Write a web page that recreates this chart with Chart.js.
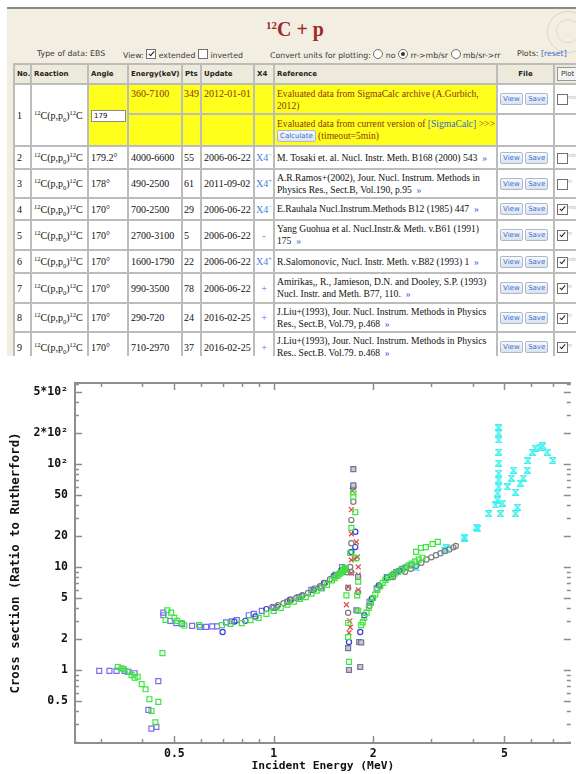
<!DOCTYPE html>
<html>
<head>
<meta charset="utf-8">
<script src="https://cdn.jsdelivr.net/npm/chart.js@4.4.0/dist/chart.umd.min.js"></script>
<style>
html, body { margin: 0; padding: 0; width: 576px; height: 774px; overflow: hidden; background: #fff; }
#topline { position: absolute; left: 7px; top: 7px; width: 569px; height: 2px; background: #8a8a8a; }
#page { position: absolute; left: 7px; top: 9px; width: 569px; height: 347px; background: #f2efe2; overflow: hidden; }
#logo { position: absolute; left: 540px; top: 2px; width: 40px; height: 40px; border: 1px solid #d9d5c9; border-radius: 50%; }
#logo2 { position: absolute; left: 549px; top: 10px; width: 22px; height: 22px; border: 1px solid #dedace; border-radius: 50%; }
#title { position: absolute; left: 259px; top: 10px; font: bold 20px "Liberation Serif", serif; line-height: 20px; color: #a3282a; white-space: nowrap; }
#title sup { font-size: 11px; vertical-align: 7px; line-height: 0; }
.flt { position: absolute; top: 40px; font: 7.8px "DejaVu Sans", sans-serif; line-height: 10px; color: #3a3a3a; white-space: nowrap; }
.flt a { color: #3366cc; }
.cb { display: inline-block; width: 8px; height: 8px; border: 1px solid #707070; background: #fff; position: relative; vertical-align: -1px; }
.cb.on::after { content: ""; position: absolute; left: 2.5px; top: 0; width: 2px; height: 5px; border: solid #222; border-width: 0 1.4px 1.4px 0; transform: rotate(40deg); }
.rd { display: inline-block; width: 8px; height: 8px; border: 1px solid #707070; border-radius: 50%; background: #fff; position: relative; vertical-align: -1px; }
.rd.on::after { content: ""; position: absolute; left: 2px; top: 2px; width: 4px; height: 4px; border-radius: 50%; background: #333; }
#tbl { position: absolute; left: 6px; top: 54px; border-collapse: collapse; table-layout: fixed; width: 580px; font: 10px "Liberation Serif", serif; color: #111; }
#tbl td, #tbl th { border: 2px solid #bcbcbc; padding: 0 2px; white-space: nowrap; overflow: hidden; background: #fff; }
#tbl td.n { padding: 0 1px; }
#tbl th { background: #eeeadb; font: bold 7px "DejaVu Sans", sans-serif; text-align: left; color: #222; }
#tbl th.c { text-align: center; }
#tbl td.y { background: #ffff1e; }
#tbl td.t { vertical-align: top; padding-top: 3px; }
#tbl td.br { color: #8b3510; }
#tbl td.ref { line-height: 12px; font-size: 9.6px; }
#tbl sup, #tbl sub { font-size: 6.5px; line-height: 0; }
.inp { display: inline-block; width: 31px; height: 10px; background: #fff; border: 1px solid #8a8a8a; font: 7px "DejaVu Sans", sans-serif; line-height: 10px; padding-left: 2px; }
.btn { display: inline-block; font: 7px "DejaVu Sans", sans-serif; color: #3a6fd0; background: linear-gradient(#f7f9fc, #d9e3ef); border: 1px solid #aeb8c8; padding: 0 2px; line-height: 10px; border-radius: 2px; vertical-align: middle; }
.pbtn { display: inline-block; font: 7px "DejaVu Sans", sans-serif; color: #333; background: #f3f3f3; border: 1px solid #999; padding: 2px 3px; font-weight: normal; }
.lnk { color: #3366cc; }
.x4 { color: #3f7fe0; font-size: 10px; }
#tbl td.pl .cb { width: 9px; height: 9px; vertical-align: middle; }
.u { color: #aaa; font: 5px "DejaVu Sans", sans-serif; vertical-align: 3px; }
#plot { position: absolute; left: 0; top: 357px; width: 576px; height: 417px; background: #fff; }
</style>
</head>
<body>
<div id="topline"></div>
<div id="page">
  <div id="logo"></div><div id="logo2"></div>
  <div id="title"><sup>12</sup>C + p</div>
  <span class="flt" style="left:30px">Type of data: EBS</span>
  <span class="flt" style="left:116px">View: <span class="cb on"></span> extended <span class="cb"></span> inverted</span>
  <span class="flt" style="left:263px">Convert units for plotting: <span class="rd"></span> no <span class="rd on"></span> rr-&gt;mb/sr <span class="rd"></span> mb/sr-&gt;rr</span>
  <span class="flt" style="left:510px">Plots: <a>[reset]</a></span>
  <table id="tbl">
    <colgroup><col style="width:17px"><col style="width:57px"><col style="width:40px"><col style="width:54px"><col style="width:19px"><col style="width:53px"><col style="width:20px"><col style="width:223px"><col style="width:57px"><col style="width:40px"></colgroup>
    <tr style="height:20px"><th>No.</th><th>Reaction</th><th>Angle</th><th>Energy(keV)</th><th>Pts</th><th>Update</th><th>X4</th><th>Reference</th><th class="c">File</th><th><span class="pbtn">Plot</span></th></tr>
    <tr style="height:30px">
      <td rowspan="2">1</td>
      <td rowspan="2"><sup>12</sup>C(p,p<sub>0</sub>)<sup>12</sup>C</td>
      <td rowspan="2" class="y"><span class="inp">179</span></td>
      <td class="y t br">360-7100</td><td class="y t br n">349</td><td class="y t br">2012-01-01</td><td class="y"></td>
      <td class="y t br ref">Evaluated data from SigmaCalc archive (A.Gurbich,<br>2012)</td>
      <td><span class="btn">View</span> <span class="btn">Save</span></td>
      <td class="pl"><span class="cb"></span><span class="u">mb</span></td>
    </tr>
    <tr style="height:32px">
      <td class="y"></td><td class="y"></td><td class="y"></td><td class="y"></td>
      <td class="y br ref">Evaluated data from current version of <span class="lnk">[SigmaCalc]</span> &gt;&gt;&gt;<br><span class="btn">Calculate</span> (timeout=5min)</td>
      <td></td><td></td>
    </tr>
    <tr style="height:23px"><td>2</td><td><sup>12</sup>C(p,p<sub>0</sub>)<sup>12</sup>C</td><td>179.2°</td><td>4000-6600</td><td class="n">55</td><td>2006-06-22</td><td class="n"><span class="x4">X4<sup>−</sup></span></td><td class="ref">M. Tosaki et. al. Nucl. Instr. Meth. B168 (2000) 543 &nbsp;<span class="lnk">»</span></td><td><span class="btn">View</span> <span class="btn">Save</span></td><td class="pl"><span class="cb"></span><span class="u">mb</span></td></tr>
    <tr style="height:29px"><td>3</td><td><sup>12</sup>C(p,p<sub>0</sub>)<sup>12</sup>C</td><td>178°</td><td>490-2500</td><td class="n">61</td><td>2011-09-02</td><td class="n"><span class="x4">X4<sup>+</sup></span></td><td class="ref">A.R.Ramos+(2002), Jour. Nucl. Instrum. Methods in<br>Physics Res., Sect.B, Vol.190, p.95 &nbsp;<span class="lnk">»</span></td><td><span class="btn">View</span> <span class="btn">Save</span></td><td class="pl"><span class="cb"></span><span class="u">rr</span></td></tr>
    <tr style="height:22px"><td>4</td><td><sup>12</sup>C(p,p<sub>0</sub>)<sup>12</sup>C</td><td>170°</td><td>700-2500</td><td class="n">29</td><td>2006-06-22</td><td class="n"><span class="x4">X4<sup>−</sup></span></td><td class="ref">E.Rauhala Nucl.Instrum.Methods B12 (1985) 447 &nbsp;<span class="lnk">»</span></td><td><span class="btn">View</span> <span class="btn">Save</span></td><td class="pl"><span class="cb on"></span><span class="u">mb</span></td></tr>
    <tr style="height:30px"><td>5</td><td><sup>12</sup>C(p,p<sub>0</sub>)<sup>12</sup>C</td><td>170°</td><td>2700-3100</td><td class="n">5</td><td>2006-06-22</td><td class="n" style="text-align:center"><span class="x4">-</span></td><td class="ref">Yang Guohua et al. Nucl.Instr.&amp; Meth. v.B61 (1991)<br>175 &nbsp;<span class="lnk">»</span></td><td><span class="btn">View</span> <span class="btn">Save</span></td><td class="pl"><span class="cb on"></span><span class="u">rr</span></td></tr>
    <tr style="height:23px"><td>6</td><td><sup>12</sup>C(p,p<sub>0</sub>)<sup>12</sup>C</td><td>170°</td><td>1600-1790</td><td class="n">22</td><td>2006-06-22</td><td class="n"><span class="x4">X4<sup>+</sup></span></td><td class="ref">R.Salomonovic, Nucl. Instr. Meth. v.B82 (1993) 1 &nbsp;<span class="lnk">»</span></td><td><span class="btn">View</span> <span class="btn">Save</span></td><td class="pl"><span class="cb on"></span><span class="u">mb</span></td></tr>
    <tr style="height:30px"><td>7</td><td><sup>12</sup>C(p,p<sub>0</sub>)<sup>12</sup>C</td><td>170°</td><td>990-3500</td><td class="n">78</td><td>2006-06-22</td><td class="n" style="text-align:center"><span class="x4">+</span></td><td class="ref">Amirikas,, R., Jamieson, D.N. and Dooley, S.P. (1993)<br>Nucl. Instr. and Meth. B77, 110. &nbsp;<span class="lnk">»</span></td><td><span class="btn">View</span> <span class="btn">Save</span></td><td class="pl"><span class="cb on"></span><span class="u">rr</span></td></tr>
    <tr style="height:29px"><td>8</td><td><sup>12</sup>C(p,p<sub>0</sub>)<sup>12</sup>C</td><td>170°</td><td>290-720</td><td class="n">24</td><td>2016-02-25</td><td class="n" style="text-align:center"><span class="x4">+</span></td><td class="ref">J.Liu+(1993), Jour. Nucl. Instrum. Methods in Physics<br>Res., Sect.B, Vol.79, p.468 &nbsp;<span class="lnk">»</span></td><td><span class="btn">View</span> <span class="btn">Save</span></td><td class="pl"><span class="cb on"></span><span class="u">rr</span></td></tr>
    <tr style="height:30px"><td>9</td><td><sup>12</sup>C(p,p<sub>0</sub>)<sup>12</sup>C</td><td>170°</td><td>710-2970</td><td class="n">37</td><td>2016-02-25</td><td class="n" style="text-align:center"><span class="x4">+</span></td><td class="ref">J.Liu+(1993), Jour. Nucl. Instrum. Methods in Physics<br>Res., Sect.B, Vol.79, p.468 &nbsp;<span class="lnk">»</span></td><td><span class="btn">View</span> <span class="btn">Save</span></td><td class="pl"><span class="cb on"></span><span class="u">rr</span></td></tr>
  </table>
</div>
<div id="plot"><canvas id="xs__canvas" width="576" height="417"></canvas></div>
<script>
// axis ticks (MeV and ratio to Rutherford)
const xTickValues = [0.3, 0.4, 0.5, 0.6, 0.7, 0.8, 0.9, 1, 2, 3, 4, 5, 6, 7];
const xLabelValues = [0.5, 1, 2, 5];
const xLabelTexts = ["0.5", "1", "2", "5"];
const yTickValues = [0.2, 0.3, 0.4, 0.5, 0.6, 0.7, 0.8, 0.9, 1, 2, 3, 4, 5, 6, 7, 8, 9, 10, 20, 30, 40, 50, 60, 70, 80, 90, 100, 200, 300, 400, 500, 600];
const yLabelValues = [0.5, 1, 2, 5, 10, 20, 50, 100, 200, 500];
const yLabelTexts = ["0.5", "1", "2", "5", "10", "20", "50", "10²", "2*10²", "5*10²"];

// purple open squares
const purpleE = [0.296, 0.318, 0.334, 0.353, 0.363, 0.379, 0.417, 0.426, 0.441, 0.447, 0.463, 0.463, 0.486, 0.507, 0.528, 0.566, 0.598, 0.624, 0.651, 0.673, 0.717, 0.747, 0.773, 0.84, 0.87, 0.92, 1.0, 1.10, 1.19, 1.30, 1.39, 1.54, 1.61, 1.95, 2.05, 2.20, 2.35, 2.45, 2.60];
const purpleS = [0.98, 0.98, 0.98, 0.98, 0.96, 0.93, 0.41, 0.27, 0.28, 0.78, 3.6, 3.4, 2.99, 2.85, 2.8, 2.68, 2.62, 2.62, 2.65, 2.65, 2.9, 2.97, 3.05, 3.4, 3.5, 3.75, 4.0, 4.6, 5.1, 6.0, 6.3, 8.4, 10.0, 4.6, 6.2, 8.0, 8.9, 9.6, 10.4];

// green open squares
const greenE = [0.337, 0.346, 0.351, 0.36, 0.371, 0.379, 0.387, 0.398, 0.409, 0.420, 0.426, 0.438, 0.447, 0.460, 0.470, 0.476, 0.489, 0.500, 0.51, 0.525, 0.536, 0.594, 0.697,
  0.74, 0.80, 0.85, 0.90, 0.95, 1.00, 1.05, 1.10, 1.15, 1.20, 1.25, 1.30, 1.35, 1.40, 1.45, 1.50, 1.53, 1.56, 1.58, 1.60, 1.62, 1.63, 1.64, 1.65,
  1.742, 1.742, 1.766, 1.718, 1.705, 1.778, 1.803, 1.66, 1.79, 1.803, 1.68, 1.68, 1.69,
  1.84, 1.86, 1.88, 1.91, 1.94, 1.97, 2.00, 2.03, 2.06, 2.10, 2.14, 2.18, 2.22, 2.27, 2.32, 2.38, 2.44, 2.50, 2.56, 2.62, 2.68, 2.75, 2.82, 2.70, 2.79, 2.89, 3.03, 3.14];
const greenS = [1.07, 1.04, 1.02, 0.96, 0.89, 0.84, 0.86, 0.73, 0.65, 0.52, 0.40, 0.31, 0.49, 1.46, 3.06, 3.8, 3.6, 3.2, 3.0, 2.85, 2.7, 2.73, 2.73,
  2.8, 2.85, 3.05, 3.2, 3.5, 3.75, 4.0, 4.3, 4.6, 4.9, 5.1, 5.5, 5.9, 6.2, 6.7, 7.4, 7.8, 8.2, 8.5, 8.8, 9.2, 9.5, 9.8, 9.4,
  53, 48, 34, 24, 13.7, 12.2, 7.2, 5.3, 5.3, 3.75, 2.86, 2.09, 1.2,
  2.73, 2.9, 3.2, 3.6, 4.0, 4.5, 5.0, 5.4, 6.0, 6.5, 7.0, 7.5, 7.9, 8.2, 8.6, 9.0, 9.4, 9.8, 10.3, 10.8, 11.3, 11.8, 12.3, 14.0, 15.3, 15.6, 16.7, 17.5];

// grey open circles
const greyE = [0.99, 1.03, 1.07, 1.10, 1.13, 1.17, 1.22, 1.27, 1.33, 1.38, 1.43, 1.48, 1.53, 1.58, 1.62, 1.66,
  1.742, 1.718, 1.718, 1.705, 1.718, 1.68, 1.68, 1.80,
  1.95, 2.1, 2.3, 2.5, 2.6, 2.7, 2.8, 2.9, 3.0, 3.1, 3.2, 3.3, 3.4, 3.5, 3.56];
const greyS = [4.1, 4.25, 4.45, 4.6, 4.8, 5.0, 5.3, 5.6, 6.2, 6.5, 7.0, 7.6, 8.1, 8.7, 9.3, 8.9,
  43, 28.5, 17, 10, 8.9, 6.25, 3.6, 5.7,
  4.2, 6.5, 8.0, 9.0, 9.6, 10.2, 11.0, 11.8, 12.4, 13.0, 13.6, 14.3, 14.8, 15.5, 16.0];

// blue open circles
const blueE = [0.70, 0.76, 0.82, 0.88, 0.95, 1.02, 1.12, 1.22, 1.32, 1.42, 1.52, 1.60, 1.65,
  1.742, 1.766, 1.766, 1.718, 1.69, 1.828,
  1.88, 1.98, 2.08, 2.2, 2.3, 2.4, 2.5];
const blueS = [2.34, 2.95, 3.0, 3.3, 3.9, 4.1, 4.8, 5.3, 6.0, 7.0, 8.2, 9.2, 9.6,
  60, 22, 15.6, 14, 1.87, 2.34,
  3.4, 4.9, 6.6, 7.8, 8.5, 9.2, 9.9];

// red crosses
const redE = [1.62, 1.64, 1.66, 1.68, 1.705, 1.718, 1.718, 1.718, 1.718, 1.73, 1.755, 1.778, 1.79, 1.803, 1.803, 1.803, 1.70, 1.69];
const redS = [9.0, 9.3, 4.3, 6.4, 2.6, 8.7, 11.7, 21, 36, 55, 12.0, 17.5, 12.5, 10, 8.4, 6.0, 3.0, 2.3];

// slate squares with tan fill
const slateE = [1.742, 1.742, 1.68, 1.69, 1.828, 1.815, 1.84, 1.80, 1.78];
const slateS = [89, 62, 1.63, 1.0, 1.07, 1.87, 1.85, 8.0, 3.8];

// cyan hourglass marks
const cyanE = [2.70, 3.28, 3.33, 3.77, 3.79, 4.12, 4.15, 4.48, 4.70, 4.76, 4.86, 4.93, 4.76, 4.80, 4.80, 4.80, 4.80, 4.80, 4.80, 4.80, 4.80, 5.10, 5.25, 5.32, 5.40, 5.47, 5.40, 5.58, 5.70, 5.86, 5.89, 6.07, 6.19, 6.41, 6.54, 6.73, 7.01];
const cyanS = [9.8, 14.6, 15.3, 19.5, 19.1, 24.4, 23.5, 33, 40, 44.6, 33, 41.7, 52, 60, 70, 81, 102, 130, 171, 200, 224, 60, 73, 87, 53, 38, 33, 65, 73, 87, 108, 130, 142, 146, 150, 130, 108];

function toPoints(es, ss) {
  return es.map((e, i) => ({ x: e, y: ss[i] }));
}

function hourglass(color) {
  const c = document.createElement("canvas");
  c.width = 7;
  c.height = 7;
  const g = c.getContext("2d");
  g.strokeStyle = color;
  g.lineWidth = 1.3;
  g.beginPath();
  g.moveTo(0.5, 0.5);
  g.lineTo(6.5, 0.5);
  g.lineTo(0.5, 6.5);
  g.lineTo(6.5, 6.5);
  g.closePath();
  g.stroke();
  return c;
}

function square(label, es, ss, color, fill) {
  return { label, data: toPoints(es, ss), pointStyle: "rect", pointRadius: 3.5, borderColor: color, backgroundColor: fill || "rgba(255,255,255,0)", pointBorderWidth: 1.2 };
}

function circle(label, es, ss, color) {
  return { label, data: toPoints(es, ss), pointStyle: "circle", pointRadius: 2.6, borderColor: color, backgroundColor: "rgba(255,255,255,0)", pointBorderWidth: 1.2 };
}

// ticks in the reference point inwards, on all four sides
const innerTicks = {
  id: "innerTicks",
  afterDraw(chart) {
    const { ctx, chartArea: a, scales: { x, y } } = chart;
    ctx.save();
    ctx.strokeStyle = "#8e8e8e";
    ctx.lineWidth = 1.5;
    ctx.beginPath();
    x.ticks.forEach((t) => {
      const px = Math.round(x.getPixelForValue(t.value)) + 0.5;
      const len = xLabelValues.includes(t.value) ? 7 : 4;
      ctx.moveTo(px, a.bottom);
      ctx.lineTo(px, a.bottom - len);
      ctx.moveTo(px, a.top);
      ctx.lineTo(px, a.top + len);
    });
    y.ticks.forEach((t) => {
      const py = Math.round(y.getPixelForValue(t.value)) + 0.5;
      const len = yLabelValues.includes(t.value) ? 7 : 4;
      ctx.moveTo(a.left, py);
      ctx.lineTo(a.left + len, py);
      ctx.moveTo(a.right, py);
      ctx.lineTo(a.right - len, py);
    });
    ctx.stroke();
    ctx.lineWidth = 2;
    ctx.beginPath();
    ctx.moveTo(a.left, a.top);
    ctx.lineTo(a.right, a.top);
    ctx.stroke();
    ctx.restore();
  },
};

const tickFont = { family: "DejaVu Sans Mono", size: 11.5, weight: "bold" };

function makeChart() {
  const ctx = document.getElementById("xs__canvas").getContext("2d");
  return new Chart(ctx, {
    type: "scatter",
    data: {
      datasets: [
        square("green", greenE, greenS, "#3de63d"),
        square("slate", slateE, slateS, "#6f6fb5", "#d4cca8"),
        circle("grey", greyE, greyS, "#7d7d7d"),
        circle("blue", blueE, blueS, "#3b3bd6"),
        { label: "red", data: toPoints(redE, redS), pointStyle: "crossRot", pointRadius: 3.5, borderColor: "#e04848", pointBorderWidth: 1.2 },
        square("purple", purpleE, purpleS, "#7a6cf0"),
        { label: "cyan", data: toPoints(cyanE, cyanS), pointStyle: hourglass("#3ff0f0"), pointRadius: 3.5 },
      ],
    },
    options: {
      responsive: false,
      animation: false,
      events: [],
      layout: { padding: { top: 26, left: 0, right: 0, bottom: 0 } },
      plugins: { legend: { display: false }, tooltip: { enabled: false } },
      scales: {
        x: {
          type: "logarithmic",
          min: 0.25,
          max: 7.94,
          afterBuildTicks: (scale) => {
            scale.ticks = xTickValues.map((v) => ({ value: v }));
          },
          afterFit: (scale) => {
            scale.height = 31;
            scale.paddingLeft = 0;
            scale.paddingRight = 0;
          },
          ticks: {
            autoSkip: false,
            maxRotation: 0,
            padding: 4,
            color: "#111",
            font: tickFont,
            callback: (value) => {
              const i = xLabelValues.indexOf(value);
              return i < 0 ? "" : xLabelTexts[i];
            },
          },
          grid: { drawOnChartArea: false, drawTicks: false },
          border: { color: "#8e8e8e", width: 2 },
          title: { display: true, text: "Incident Energy (MeV)", color: "#111", font: { family: "DejaVu Sans Mono", size: 11.3, weight: "bold" }, padding: { top: 0, bottom: 1 } },
        },
        y: {
          type: "logarithmic",
          min: 0.1955,
          max: 611,
          afterBuildTicks: (scale) => {
            scale.ticks = yTickValues.map((v) => ({ value: v }));
          },
          afterFit: (scale) => {
            scale.width = 75;
            scale.paddingTop = 0;
            scale.paddingBottom = 0;
          },
          ticks: {
            autoSkip: false,
            padding: 7,
            color: "#111",
            font: tickFont,
            callback: (value) => {
              const i = yLabelValues.indexOf(value);
              return i < 0 ? "" : yLabelTexts[i];
            },
          },
          grid: { drawOnChartArea: false, drawTicks: false },
          border: { color: "#8e8e8e", width: 2 },
          title: { display: true, text: "Cross section (Ratio to Rutherford)", color: "#111", font: { family: "DejaVu Sans Mono", size: 12.4, weight: "bold" }, padding: { top: 8, bottom: 0 } },
        },
      },
    },
    plugins: [innerTicks],
  });
}

makeChart();
</script>
</body>
</html>
